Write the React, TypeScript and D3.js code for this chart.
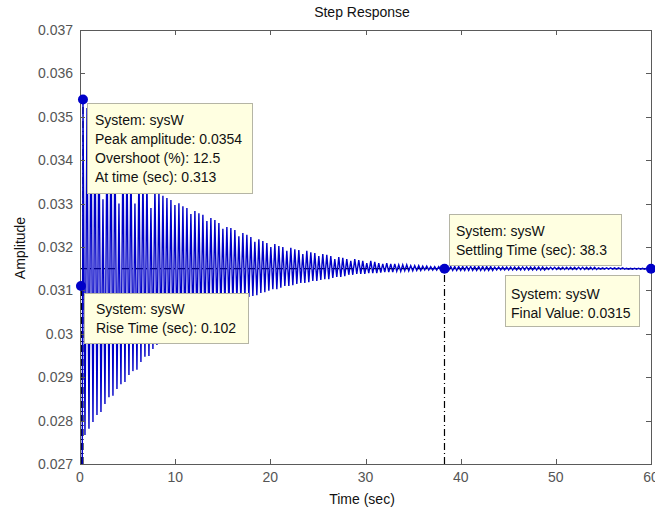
import React from "react";
import * as d3 from "d3";

// axis ticks
const xTicks = [0, 10, 20, 30, 40, 50, 60];
const xTickLabels = ["0", "10", "20", "30", "40", "50", "60"];
const yTicks = [0.027, 0.028, 0.029, 0.03, 0.031, 0.032, 0.033, 0.034, 0.035, 0.036, 0.037];
const yTickLabels = ["0.027", "0.028", "0.029", "0.03", "0.031", "0.032", "0.033", "0.034", "0.035", "0.036", "0.037"];

// step response: one peak and one trough per cycle
const firstPeakTime = 0.313;
const cyclePeriod = 0.42;
const peaks = [
  0.0354, 0.0352, 0.035, 0.0349, 0.0348, 0.0331, 0.0346, 0.0345, 0.0344, 0.033,
  0.0342, 0.0341, 0.034, 0.033, 0.0338, 0.0337, 0.0336, 0.0329, 0.0334, 0.0333,
  0.03318, 0.03313, 0.03308, 0.03297, 0.03301, 0.03294, 0.0329, 0.03276, 0.03283, 0.03278,
  0.03274, 0.0326, 0.03267, 0.03262, 0.03255, 0.03242, 0.03246, 0.03244, 0.03239, 0.03225,
  0.03232, 0.03228, 0.03223, 0.03212, 0.03218, 0.03214, 0.03209, 0.032, 0.03207, 0.03202,
  0.032, 0.03191, 0.03198, 0.03195, 0.03193, 0.03184, 0.03191, 0.03188, 0.03186, 0.03179,
  0.03184, 0.03182, 0.03179, 0.03172, 0.03177, 0.03175, 0.03172, 0.03168, 0.03172, 0.0317,
  0.03168, 0.03163, 0.03168, 0.03166, 0.03163, 0.03161, 0.03163, 0.03161, 0.03161, 0.03159,
  0.03159, 0.03159, 0.03157, 0.03157, 0.03157, 0.03156, 0.03156, 0.03155, 0.03155, 0.03155,
  0.03155, 0.03155, 0.03155, 0.03155, 0.03155, 0.03155, 0.03155, 0.03155, 0.03155, 0.03155,
  0.03155, 0.03155, 0.03155, 0.03154, 0.03154, 0.03154, 0.03154, 0.03154, 0.03154, 0.03154,
  0.03154, 0.03154, 0.03154, 0.03154, 0.03154, 0.03154, 0.03153, 0.03153, 0.03153, 0.03153,
  0.03153, 0.03153, 0.03153, 0.03153, 0.03153, 0.03153, 0.03153, 0.03153, 0.03153, 0.03152,
  0.03152, 0.03152, 0.03152, 0.03152, 0.03152, 0.03152, 0.03151, 0.03151, 0.03151, 0.03151,
  0.03151, 0.03151, 0.03151,
];
const troughs = [
  0.02767, 0.02781, 0.02797, 0.02813, 0.0282, 0.02838, 0.02854, 0.02857, 0.02873, 0.02884,
  0.02889, 0.02905, 0.02914, 0.02917, 0.02935, 0.02947, 0.02949, 0.02965, 0.02974, 0.02977,
  0.02986, 0.0299, 0.02993, 0.03, 0.03004, 0.03006, 0.03016, 0.0302, 0.03022, 0.03032,
  0.03036, 0.03039, 0.03048, 0.03053, 0.03055, 0.03064, 0.03066, 0.03069, 0.03076, 0.03078,
  0.0308, 0.03085, 0.03087, 0.03089, 0.03094, 0.03096, 0.03099, 0.03103, 0.03103, 0.03106,
  0.0311, 0.0311, 0.03112, 0.03115, 0.03117, 0.03117, 0.03119, 0.03122, 0.03122, 0.03124,
  0.03126, 0.03126, 0.03129, 0.03131, 0.03131, 0.03133, 0.03136, 0.03136, 0.03138, 0.03138,
  0.03138, 0.0314, 0.0314, 0.0314, 0.03141, 0.03142, 0.03142, 0.03142, 0.03144, 0.03144,
  0.03145, 0.03145, 0.03145, 0.03146, 0.03146, 0.03147, 0.03147, 0.03147, 0.03147, 0.03147,
  0.03146, 0.03146, 0.03146, 0.03146, 0.03146, 0.03146, 0.03146, 0.03146, 0.03146, 0.03146,
  0.03146, 0.03146, 0.03146, 0.03147, 0.03147, 0.03147, 0.03147, 0.03147, 0.03147, 0.03147,
  0.03147, 0.03147, 0.03147, 0.03147, 0.03147, 0.03147, 0.03148, 0.03148, 0.03148, 0.03148,
  0.03148, 0.03148, 0.03148, 0.03148, 0.03148, 0.03148, 0.03148, 0.03148, 0.03148, 0.03149,
  0.03149, 0.03149, 0.03149, 0.03149, 0.03149, 0.03149, 0.03149, 0.03149, 0.03149, 0.03149,
  0.03149, 0.03149,
];
const endTime = 60;
const finalValue = 0.0315;

// characteristics marked on the plot
const peakAmplitude = 0.0354;
const riseTime = 0.102;
const riseValue = 0.0311;
const settlingTime = 38.3;

const peakTip = ["System: sysW", "Peak amplitude: 0.0354", "Overshoot (%): 12.5", "At time (sec): 0.313"];
const riseTip = ["System: sysW", "Rise Time (sec): 0.102"];
const settleTip = ["System: sysW", "Settling Time (sec): 38.3"];
const finalTip = ["System: sysW", "Final Value: 0.0315"];

const W = 655;
const H = 511;
const left = 80, right = 651, top = 30, bottom = 464;
const font = "'Liberation Sans', Arial, Helvetica, sans-serif";
const blue = "#0000c8";
const dashDot = "7,3,1,3";

const App = () => {
  const x = d3.scaleLinear().domain([0, 60]).range([left, right]);
  const y = d3.scaleLinear().domain([0.027, 0.037]).range([bottom, top]);

  const pts: [number, number][] = [[0, 0]];
  peaks.forEach((p, i) => {
    pts.push([firstPeakTime + i * cyclePeriod, p]);
    if (i < troughs.length) pts.push([firstPeakTime + (i + 0.5) * cyclePeriod, troughs[i]]);
  });
  pts.push([endTime, finalValue]);

  const line = d3
    .line<[number, number]>()
    .x((d) => x(d[0]))
    .y((d) => y(d[1]));

  const tip = (lines: string[], bx: number, by: number, bw: number, bh: number, tx: number, ty: number) => (
    <g>
      <rect x={bx + 0.5} y={by + 0.5} width={bw} height={bh} fill="#ffffe1" stroke="#b5b5a5" />
      {lines.map((t, i) => (
        <text key={i} x={tx} y={ty + i * 19} fontSize={14} fill="#111">
          {t}
        </text>
      ))}
    </g>
  );

  return (
    <svg
      width={W}
      height={H}
      style={{ position: "absolute", left: 0, top: 0, background: "#fff" }}
      fontFamily={font}
    >
      <defs>
        <clipPath id="plotArea">
          <rect x={left} y={top} width={right - left} height={bottom - top} />
        </clipPath>
      </defs>

      <rect x={left} y={top} width={right - left} height={bottom - top} fill="#fff" />

      {/* characteristic lines */}
      <g stroke="#000" strokeWidth={1.2} strokeDasharray={dashDot} fill="none">
        <line x1={x(0)} x2={x(60)} y1={y(finalValue)} y2={y(finalValue)} />
        <line x1={x(settlingTime)} x2={x(settlingTime)} y1={y(0.027)} y2={y(finalValue)} />
        <line x1={x(riseTime) + 0.5} x2={x(riseTime) + 0.5} y1={y(0.027)} y2={y(riseValue)} strokeWidth={2.5} />
        <line x1={x(firstPeakTime)} x2={x(firstPeakTime)} y1={y(0.027)} y2={y(peakAmplitude)} />
      </g>

      {/* response */}
      <path d={line(pts) ?? ""} fill="none" stroke={blue} strokeWidth={1.4} clipPath="url(#plotArea)" />

      {/* axes box and ticks */}
      <g stroke="#5a5a5a" strokeWidth={1} fill="none">
        <rect x={left + 0.5} y={top + 0.5} width={right - left} height={bottom - top} />
        {xTicks.map((t) => (
          <g key={t}>
            <line x1={Math.round(x(t)) + 0.5} x2={Math.round(x(t)) + 0.5} y1={bottom} y2={bottom - 5} />
            <line x1={Math.round(x(t)) + 0.5} x2={Math.round(x(t)) + 0.5} y1={top} y2={top + 5} />
          </g>
        ))}
        {yTicks.map((t) => (
          <g key={t}>
            <line x1={left} x2={left + 5} y1={Math.round(y(t)) + 0.5} y2={Math.round(y(t)) + 0.5} />
            <line x1={right} x2={right - 5} y1={Math.round(y(t)) + 0.5} y2={Math.round(y(t)) + 0.5} />
          </g>
        ))}
      </g>

      <g fontSize={14} fill="#555">
        {xTicks.map((t, i) => (
          <text key={t} x={x(t)} y={482} textAnchor="middle">
            {xTickLabels[i]}
          </text>
        ))}
        {yTicks.map((t, i) => (
          <text key={t} x={73} y={y(t) + 5} textAnchor="end">
            {yTickLabels[i]}
          </text>
        ))}
      </g>

      <text x={362} y={17} textAnchor="middle" fontSize={14} fill="#111">
        Step Response
      </text>
      <text x={362} y={504} textAnchor="middle" fontSize={14} fill="#111">
        Time (sec)
      </text>
      <text transform="translate(25,248) rotate(-90)" textAnchor="middle" fontSize={14} fill="#111">
        Amplitude
      </text>

      {/* data tips */}
      {tip(peakTip, 87, 103, 165, 90, 95, 125)}
      {tip(riseTip, 84, 293, 164, 50, 96, 314)}
      {tip(settleTip, 449, 214, 172, 51, 456, 236)}
      {tip(finalTip, 505, 275, 134, 51, 511, 299)}

      <g fill={blue}>
        <circle cx={x(firstPeakTime)} cy={y(peakAmplitude)} r={5} />
        <circle cx={x(riseTime)} cy={y(riseValue)} r={5} />
        <circle cx={x(settlingTime)} cy={y(finalValue)} r={5} />
        <circle cx={x(endTime)} cy={y(finalValue)} r={5} />
      </g>
    </svg>
  );
};

export default App;
